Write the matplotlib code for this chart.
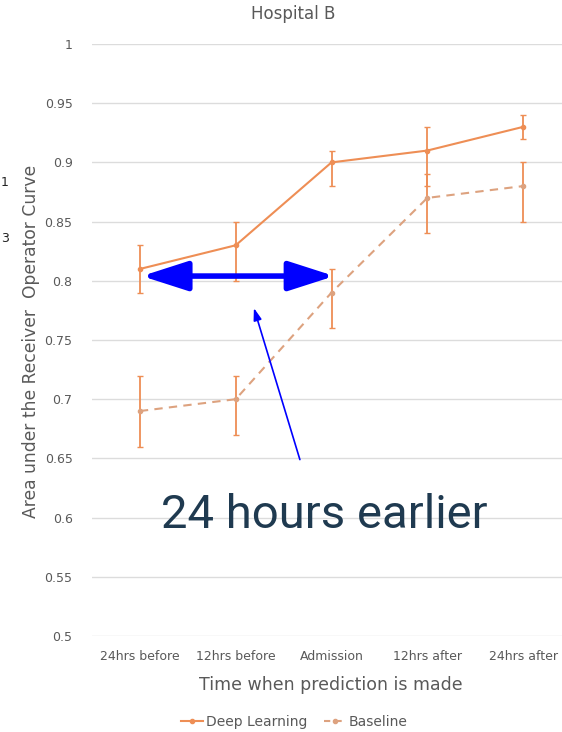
import numpy as np
import matplotlib.pyplot as plt
from matplotlib.lines import Line2D

# AUROC by time of prediction, Hospital B
times = ['24hrs before', '12hrs before', 'Admission', '12hrs after', '24hrs after']
dl_auc = [0.81, 0.83, 0.90, 0.91, 0.93]
dl_lo = [0.79, 0.80, 0.88, 0.88, 0.92]
dl_hi = [0.83, 0.85, 0.91, 0.93, 0.94]
base_auc = [0.69, 0.70, 0.79, 0.87, 0.88]
base_lo = [0.66, 0.67, 0.76, 0.84, 0.85]
base_hi = [0.72, 0.72, 0.81, 0.89, 0.90]
yticks = [0.5, 0.55, 0.6, 0.65, 0.7, 0.75, 0.8, 0.85, 0.9, 0.95, 1]

orange = '#EE8E55'
orange_b = '#DDA27F'
gray = '#595959'

fig = plt.figure(figsize=(5.62, 7.32), dpi=100)
ax = fig.add_axes([92/562, 96/732, 479/562, 592/732])

x = np.arange(len(times))
dl_auc, dl_lo, dl_hi = map(np.array, (dl_auc, dl_lo, dl_hi))
base_auc, base_lo, base_hi = map(np.array, (base_auc, base_lo, base_hi))

ax.errorbar(x, dl_auc, yerr=[dl_auc - dl_lo, dl_hi - dl_auc], color=orange,
            lw=1.5, marker='o', ms=3, capsize=2.5, elinewidth=1.3)
ax.errorbar(x, base_auc, yerr=[base_auc - base_lo, base_hi - base_auc],
            color=orange_b, ecolor=orange, lw=1.5, ls='--', dashes=(4, 3),
            marker='o', ms=3, capsize=2.5, elinewidth=1.3)

ax.set_xlim(-0.5, 4.5)
ax.set_ylim(0.5, 1.0)
ax.set_yticks(yticks)
ax.set_yticklabels([f'{t:g}' for t in yticks])
ax.set_xticks(x)
ax.set_xticklabels(times)
ax.tick_params(length=0, labelsize=9, colors=gray, pad=10)
ax.tick_params(axis='y', pad=14)
ax.grid(axis='y', color='#DCDCDC', lw=1)
ax.set_axisbelow(True)
for s in ax.spines.values():
    s.set_visible(False)

fig.text(293/562, 1 - 14/732, 'Hospital B', ha='center', va='center',
         fontsize=12, color=gray)
fig.text(31/562, 1 - 341/732, 'Area under the Receiver  Operator Curve',
         rotation=90, ha='center', va='center', fontsize=12.3, color=gray)
fig.text(331/562, 1 - 685/732, 'Time when prediction is made', ha='center',
         va='center', fontsize=12.5, color=gray)
fig.text(1/562, 1 - 183/732, '1', fontsize=9, va='center', color='#222222')
fig.text(1/562, 1 - 238/732, '3', fontsize=9, va='center', color='#222222')

handles = [Line2D([], [], color=orange, lw=1.5, marker='o', ms=3),
           Line2D([], [], color=orange_b, lw=1.5, ls='--', dashes=(3, 2.5),
                  marker='o', ms=3)]
leg = fig.legend(handles, ['Deep Learning', 'Baseline'], loc='center',
                 bbox_to_anchor=(294/562, 1 - 722/732), ncol=2,
                 frameon=False, fontsize=10, handlelength=1.6,
                 columnspacing=1.2, handletextpad=0.2)
for t in leg.get_texts():
    t.set_color(gray)

# annotation
ax.annotate('', xy=(0.02, 0.804), xytext=(2.03, 0.804),
            arrowprops=dict(arrowstyle='<|-|>,head_length=1.4,head_width=0.45',
                            mutation_scale=20, lw=4, color='#0000FF',
                            shrinkA=0, shrinkB=0))
ax.annotate('', xy=(1.19, 0.777), xytext=(1.67, 0.649),
            arrowprops=dict(arrowstyle='-|>,head_length=0.6,head_width=0.2',
                            mutation_scale=12, lw=1.2, color='#0000FF',
                            shrinkA=0, shrinkB=0))
ax.text(1.93, 0.602, '24 hours earlier', ha='center', va='center',
        fontsize=34, family='Roboto', color='#1F3A50')

fig.savefig('out.png', dpi=100)
